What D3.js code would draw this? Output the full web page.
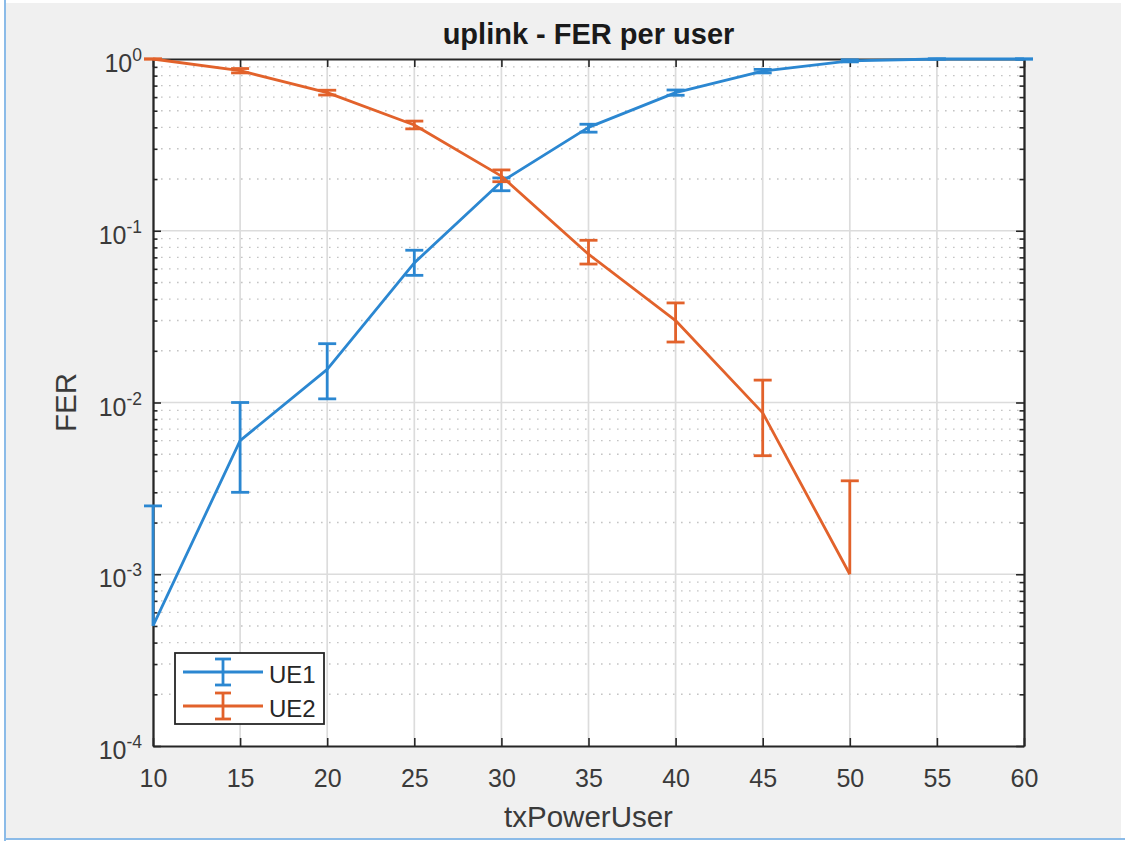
<!DOCTYPE html>
<html>
<head>
<meta charset="utf-8">
<script src="https://cdn.jsdelivr.net/npm/d3@7"></script>
<style>
  html, body { margin: 0; padding: 0; background: #ffffff; }
  svg { display: block; }
  text { font-family: "Liberation Sans", Arial, Helvetica, sans-serif; }
</style>
</head>
<body>
<svg id="chart" width="1125" height="841"></svg>
<script>
// Transmit power per user (x) and frame error rate per user equipment
const txPower = [10, 15, 20, 25, 30, 35, 40, 45, 50, 55, 60];

const ue1Fer   = [0.0005, 0.006, 0.0156, 0.065, 0.193, 0.40, 0.637, 0.851, 0.975, 1.0, 1.0];
const ue1Lower = [null,   0.003, 0.0105, 0.055, 0.171, 0.375, 0.615, 0.83, 0.962, 1.0, 1.0];
const ue1Upper = [0.0025, 0.010, 0.0220, 0.077, 0.203, 0.417, 0.660, 0.87, 0.99,  1.0, 1.0];

const ue2Power = [10, 15, 20, 25, 30, 35, 40, 45, 50];
const ue2Fer   = [1.0, 0.855, 0.637, 0.413, 0.208, 0.073, 0.030, 0.0087, 0.001];
const ue2Lower = [1.0, 0.830, 0.617, 0.392, 0.193, 0.064, 0.0225, 0.0049, null];
const ue2Upper = [1.0, 0.880, 0.658, 0.435, 0.226, 0.088, 0.038, 0.0135, 0.0035];

const xTicks = [10, 15, 20, 25, 30, 35, 40, 45, 50, 55, 60];
const yDecades = [1e-4, 1e-3, 1e-2, 1e-1, 1];
const yExponents = ["-4", "-3", "-2", "-1", "0"];

const seriesNames = ["UE1", "UE2"];
const seriesColors = ["#2b87d1", "#e2622b"];

// ---- layout ----
const plotLeft = 153, plotRight = 1024, plotTop = 59, plotBottom = 746;
const axisColor = "#262626";
const labelColor = "#3a3a3a";

const svg = d3.select("#chart");

// window frame
svg.append("rect").attr("x", 6).attr("y", 3).attr("width", 1115).attr("height", 835).attr("fill", "#f0f0f0");
svg.append("line").attr("x1", 5).attr("x2", 5).attr("y1", 0).attr("y2", 841)
  .attr("stroke", "#8bbbe8").attr("stroke-width", 2);
svg.append("line").attr("x1", 5).attr("x2", 1125).attr("y1", 839).attr("y2", 839)
  .attr("stroke", "#8bbbe8").attr("stroke-width", 2);

const x = d3.scaleLinear().domain([10, 60]).range([plotLeft, plotRight]);
const y = d3.scaleLog().domain([1e-4, 1]).range([plotBottom, plotTop]);

// plot background
svg.append("rect").attr("x", plotLeft).attr("y", plotTop)
  .attr("width", plotRight - plotLeft).attr("height", plotBottom - plotTop).attr("fill", "#ffffff");

// minor y values: 2..9 x each decade
const yMinor = [];
for (let k = -4; k < 0; k++) for (let m = 2; m <= 9; m++) yMinor.push(m * Math.pow(10, k));

// minor grid (dotted)
svg.append("g").selectAll("line").data(yMinor).join("line")
  .attr("x1", plotLeft).attr("x2", plotRight)
  .attr("y1", d => y(d)).attr("y2", d => y(d))
  .attr("stroke", "#c4c4c4").attr("stroke-width", 1.4)
  .attr("stroke-dasharray", "1.6,6.4");

// major grid
svg.append("g").selectAll("line").data(xTicks.slice(1, -1)).join("line")
  .attr("x1", d => x(d)).attr("x2", d => x(d))
  .attr("y1", plotTop).attr("y2", plotBottom)
  .attr("stroke", "#dcdcdc").attr("stroke-width", 1.7);
svg.append("g").selectAll("line").data(yDecades.slice(1, -1)).join("line")
  .attr("x1", plotLeft).attr("x2", plotRight)
  .attr("y1", d => y(d)).attr("y2", d => y(d))
  .attr("stroke", "#dcdcdc").attr("stroke-width", 1.7);

// ---- axes (ticks pointing inward) ----
function styleAxis(g) {
  g.select(".domain").attr("stroke", axisColor).attr("stroke-width", 1.8);
  g.selectAll(".tick line").attr("stroke", axisColor).attr("stroke-width", 1.6);
}

const xBottom = svg.append("g").attr("transform", `translate(0,${plotBottom})`)
  .call(d3.axisBottom(x).tickValues(xTicks).tickSizeInner(-8).tickSizeOuter(0).tickPadding(23).tickFormat(d3.format("d")));
styleAxis(xBottom);
xBottom.selectAll(".tick text").attr("font-size", 25).attr("fill", labelColor)
  .attr("font-family", "Liberation Sans, Arial, sans-serif");

const xTop = svg.append("g").attr("transform", `translate(0,${plotTop})`)
  .call(d3.axisTop(x).tickValues(xTicks).tickSizeInner(-8).tickSizeOuter(0).tickFormat(""));
styleAxis(xTop);

const yLeft = svg.append("g").attr("transform", `translate(${plotLeft},0)`)
  .call(d3.axisLeft(y).tickValues(yDecades).tickSizeInner(-8).tickSizeOuter(0).tickPadding(11).tickFormat(""));
styleAxis(yLeft);
yLeft.selectAll(".tick text")
  .attr("font-size", 25).attr("fill", labelColor).attr("dy", "0.5em")
  .attr("font-family", "Liberation Sans, Arial, sans-serif")
  .each(function(d, i) {
    const t = d3.select(this);
    t.append("tspan").text("10");
    t.append("tspan").text(yExponents[i]).attr("font-size", 17.5).attr("dy", "-0.62em");
  });

const yLeftMinor = svg.append("g").attr("transform", `translate(${plotLeft},0)`)
  .call(d3.axisLeft(y).tickValues(yMinor).tickSizeInner(-4.5).tickSizeOuter(0).tickFormat(""));
styleAxis(yLeftMinor);

const yRight = svg.append("g").attr("transform", `translate(${plotRight},0)`)
  .call(d3.axisRight(y).tickValues(yDecades).tickSizeInner(-8).tickSizeOuter(0).tickFormat(""));
styleAxis(yRight);
const yRightMinor = svg.append("g").attr("transform", `translate(${plotRight},0)`)
  .call(d3.axisRight(y).tickValues(yMinor).tickSizeInner(-4.5).tickSizeOuter(0).tickFormat(""));
styleAxis(yRightMinor);

// ---- series with error bars ----
const capHalf = 9;
const lineW = 2.8;
function drawSeries(xs, vals, lo, hi, color) {
  const g = svg.append("g");
  const pts = xs.map((d, i) => [d, vals[i]]);
  g.append("path").datum(pts)
    .attr("fill", "none").attr("stroke", color).attr("stroke-width", lineW)
    .attr("stroke-linejoin", "round")
    .attr("d", d3.line().x(d => x(d[0])).y(d => y(d[1])));
  xs.forEach((d, i) => {
    const cx = x(d);
    const yHi = y(hi[i]);
    const yLo = lo[i] == null ? y(vals[i]) : y(lo[i]);
    g.append("line").attr("x1", cx).attr("x2", cx).attr("y1", yHi).attr("y2", yLo)
      .attr("stroke", color).attr("stroke-width", lineW);
    g.append("line").attr("x1", cx - capHalf).attr("x2", cx + capHalf).attr("y1", yHi).attr("y2", yHi)
      .attr("stroke", color).attr("stroke-width", lineW);
    if (lo[i] != null) {
      g.append("line").attr("x1", cx - capHalf).attr("x2", cx + capHalf).attr("y1", yLo).attr("y2", yLo)
        .attr("stroke", color).attr("stroke-width", lineW);
    }
  });
}
drawSeries(txPower, ue1Fer, ue1Lower, ue1Upper, seriesColors[0]);
drawSeries(ue2Power, ue2Fer, ue2Lower, ue2Upper, seriesColors[1]);

// ---- title and axis labels ----
svg.append("text").attr("x", (plotLeft + plotRight) / 2).attr("y", 44)
  .attr("text-anchor", "middle").attr("font-size", 29).attr("font-weight", "bold")
  .attr("fill", "#1a1a1a").text("uplink - FER per user");

svg.append("text").attr("x", (plotLeft + plotRight) / 2).attr("y", 827)
  .attr("text-anchor", "middle").attr("font-size", 29.5)
  .attr("fill", labelColor).text("txPowerUser");

svg.append("text").attr("transform", `translate(76,${(plotTop + plotBottom) / 2}) rotate(-90)`)
  .attr("text-anchor", "middle").attr("font-size", 29.5)
  .attr("fill", labelColor).text("FER");

// ---- legend ----
const lg = svg.append("g");
lg.append("rect").attr("x", 175).attr("y", 653).attr("width", 149).attr("height", 71)
  .attr("fill", "#ffffff").attr("stroke", axisColor).attr("stroke-width", 1.8);
const rowY = [672, 706];
seriesNames.forEach((name, i) => {
  const ry = rowY[i], c = seriesColors[i];
  lg.append("line").attr("x1", 183).attr("x2", 263).attr("y1", ry).attr("y2", ry)
    .attr("stroke", c).attr("stroke-width", lineW);
  lg.append("line").attr("x1", 223).attr("x2", 223).attr("y1", ry - 13).attr("y2", ry + 13)
    .attr("stroke", c).attr("stroke-width", lineW);
  [ry - 13, ry + 13].forEach(cy => {
    lg.append("line").attr("x1", 215).attr("x2", 231).attr("y1", cy).attr("y2", cy)
      .attr("stroke", c).attr("stroke-width", lineW);
  });
  lg.append("text").attr("x", 269).attr("y", ry + 11).attr("font-size", 24)
    .attr("fill", "#262626").text(name);
});
</script>
</body>
</html>
